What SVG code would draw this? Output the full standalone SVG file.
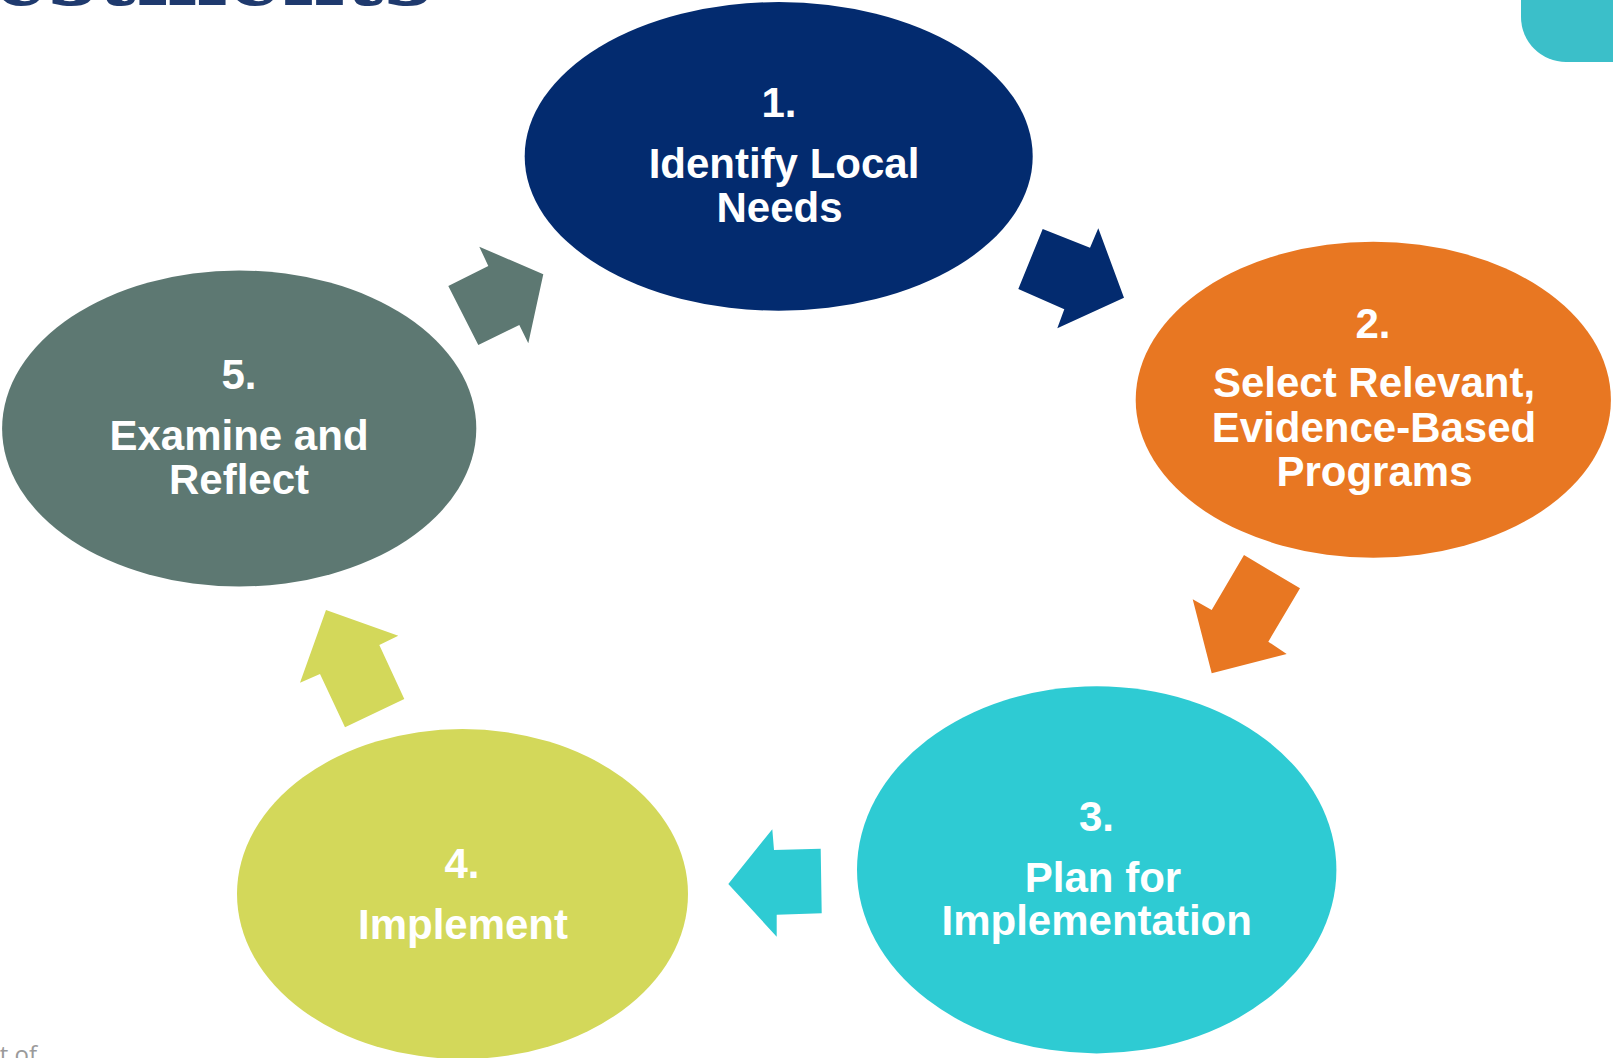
<svg xmlns="http://www.w3.org/2000/svg" width="1613" height="1058" viewBox="0 0 1613 1058">
  <style>
    .label { font-family: "Liberation Sans", Arial, sans-serif; font-weight: bold; font-size: 42px; fill: #ffffff; text-anchor: middle; }
    .title { font-family: "DejaVu Serif", "Liberation Serif", serif; font-weight: bold; font-size: 86px; fill: #1f3a6e; text-anchor: end; }
    .footer { font-family: "Open Sans", "Liberation Sans", sans-serif; font-size: 24px; fill: #9a9a9a; text-anchor: end; }
  </style>

  <rect x="0" y="0" width="1613" height="1058" fill="#ffffff"/>

  <!-- page furniture -->
  <text class="title" x="433" y="5">estments</text>
  <rect x="1521" y="-60" width="160" height="122" rx="45" ry="45" fill="#3bbfc9"/>
  <text class="footer" x="37" y="1063">t of</text>

  <!-- cycle steps -->
  <g id="node1">
    <ellipse cx="778.7" cy="156.4" rx="254" ry="154.3" fill="#032b6f"/>
    <text class="label" x="779" y="116.7">1.</text>
    <text class="label" x="784" y="178">Identify Local</text>
    <text class="label" x="779.5" y="222">Needs</text>
  </g>

  <g id="node2">
    <ellipse cx="1373.3" cy="399.7" rx="237.6" ry="158" fill="#e87722"/>
    <text class="label" x="1373" y="337.7">2.</text>
    <text class="label" x="1374" y="397">Select Relevant,</text>
    <text class="label" x="1374" y="442">Evidence-Based</text>
    <text class="label" x="1374.5" y="486">Programs</text>
  </g>

  <g id="node3">
    <ellipse cx="1096.7" cy="869.8" rx="239.7" ry="183.6" fill="#2ecbd3"/>
    <text class="label" x="1096.5" y="830.7">3.</text>
    <text class="label" x="1103" y="891.7">Plan for</text>
    <text class="label" x="1096.7" y="935">Implementation</text>
  </g>

  <g id="node4">
    <ellipse cx="462.5" cy="894" rx="225.5" ry="165" fill="#d3d85a"/>
    <text class="label" x="462" y="878">4.</text>
    <text class="label" x="463" y="939">Implement</text>
  </g>

  <g id="node5">
    <ellipse cx="239.2" cy="428.5" rx="237.1" ry="158" fill="#5d7872"/>
    <text class="label" x="239" y="389">5.</text>
    <text class="label" x="239" y="450">Examine and</text>
    <text class="label" x="239" y="494">Reflect</text>
  </g>

  <!-- block arrows between steps -->
  <g id="connectors">
    <polygon fill="#032b6f" points="1042.7,229 1090,247.7 1098.3,228.3 1124,297.7 1057.3,328.3 1064.3,309.3 1018.3,289"/>
    <polygon fill="#e87722" points="1244,555 1300,588.3 1268.3,641.7 1286.7,654 1211.7,673.3 1192.7,599.3 1211.7,610"/>
    <polygon fill="#2ecbd3" points="772.3,829.3 774,850 820.7,848.7 821.7,913.3 776.7,914.7 776.7,936.7 728.3,884"/>
    <polygon fill="#d3d85a" points="326,610 398.3,635.7 379.3,645 404.3,699 345,727.3 320,674 300,682.7"/>
    <polygon fill="#5d7872" points="448.3,286 488.3,266 479.3,246.7 543.3,274.3 528.3,343.3 519.3,325 478.3,345"/>
  </g>
</svg>
